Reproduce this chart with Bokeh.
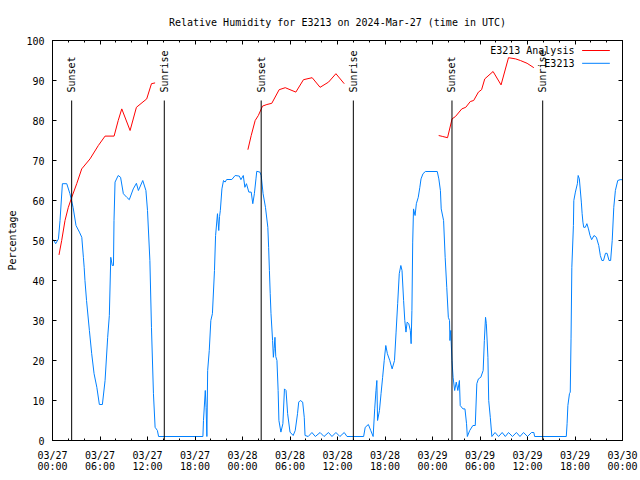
import math
from bokeh.plotting import figure
from bokeh.models import FixedTicker, LinearAxis, Range1d, Label, Arrow
from bokeh.core.properties import value
from bokeh.embed import file_html
from bokeh.resources import INLINE

FONT = "DejaVu Sans Mono"
FS = "10px"
RED = "#ff0000"
BLUE = "#0080ff"
NAN = float("nan")

title_text = "Relative Humidity for E3213 on 2024-Mar-27 (time in UTC)"
y_label = "Percentage"

# x axis: hours since 2024-03-27 00:00 UTC
x_ticks = [0, 6, 12, 18, 24, 30, 36, 42, 48, 54, 60, 66, 72]
x_minor_ticks = list(range(0, 73, 2))
x_tick_labels = ["03/27\n00:00", "03/27\n06:00", "03/27\n12:00", "03/27\n18:00",
                 "03/28\n00:00", "03/28\n06:00", "03/28\n12:00", "03/28\n18:00",
                 "03/29\n00:00", "03/29\n06:00", "03/29\n12:00", "03/29\n18:00",
                 "03/30\n00:00"]
y_ticks = [0, 10, 20, 30, 40, 50, 60, 70, 80, 90, 100]

# Sunset / sunrise events (hours)
event_hours = [2.42, 14.12, 26.36, 38.0, 50.46, 61.92]
event_labels = ["Sunset", "Sunrise", "Sunset", "Sunrise", "Sunset", "Sunrise"]

# E3213 Analysis (red), three runs separated by gaps
analysis_hours = [0.82, 1.16, 1.58, 2.0, 2.43, 3.06, 3.69, 4.74, 5.79, 6.64, 7.78, 8.3, 8.75, 9.8, 10.6, 11.9, 12.5, 12.96,
                  NAN,
                  24.68, 25.1, 25.6, 26.0, 26.53, 27.08, 27.7, 28.63, 29.4, 30.74, 31.7, 32.8, 33.8, 34.87, 35.8, 36.85,
                  NAN,
                  48.78, 49.3, 49.9, 50.47, 50.9, 51.7, 52.2, 52.78, 53.2, 53.8, 54.2, 54.6, 55.65, 56.66, 57.6, 58.5, 59.1, 59.95, 60.8]
analysis_values = [46.4, 50, 55, 58.3, 60.8, 64.2, 67.9, 70.4, 73.75, 76.1, 76.1, 80, 82.9, 77.5, 83.3, 85.4, 89.2, 89.4,
                   NAN,
                   72.7, 76.25, 80, 81.25, 83.6, 84, 84.3, 87.7, 88.2, 87.1, 90.2, 90.7, 88.3, 89.6, 91.7, 89.2,
                   NAN,
                   76.25, 76, 75.7, 80.4, 81, 82.9, 83.3, 84.75, 85, 87.1, 87.7, 90.4, 92.25, 88.9, 95.7, 95.4, 95, 94.3, 93.2]

# E3213 observations (blue)
obs_hours = [0.1, 0.4, 0.75, 0.95, 1.25, 1.8, 2.2, 2.6, 2.97, 3.4, 3.7, 3.9, 4.0, 4.1, 4.3, 4.66, 4.95, 5.25, 5.6, 5.92,
             6.3, 6.64, 6.97, 7.18, 7.36, 7.55, 7.7, 7.77, 7.9, 8.3, 8.6, 8.95, 9.38, 9.7, 10.2, 10.6, 10.85, 11.4, 11.8,
             12.0, 12.3, 12.5, 12.75, 12.96, 13.25, 13.4, 19.0, 19.07, 19.3, 19.4, 19.5, 19.6, 19.8, 20.0, 20.2, 20.46,
             20.6, 20.84, 21.0, 21.1, 21.2, 21.4, 21.6, 21.8, 22.0, 22.65, 23.07, 23.6, 23.8, 24.1, 24.3, 24.5, 24.8,
             25.1, 25.3, 25.5, 25.7, 25.8, 26.2, 26.36, 26.6, 26.9, 27.2, 27.3, 27.4, 27.5, 27.6, 27.8, 27.9, 28.0,
             28.1, 28.2, 28.35, 28.5, 28.6, 28.85, 29.1, 29.3, 29.5, 29.7, 30.0, 30.4, 30.66, 30.95, 31.1, 31.3, 31.6,
             31.8, 31.9, 32.3, 32.77, 33.2, 33.8, 34.3, 34.86, 35.3, 35.8, 36.3, 36.85, 37.2, 39.3, 39.5, 39.9, 40.2,
             40.5, 40.7, 40.86, 40.97, 41.06, 41.3, 41.5, 41.7, 41.9, 42.1, 42.3, 42.6, 42.9, 43.2, 43.4, 43.6, 43.8,
             44.0, 44.15, 44.35, 44.5, 44.65, 44.8, 45.0, 45.2, 45.3, 45.4, 45.5, 45.6, 45.8, 45.96, 46.2, 46.4, 46.55,
             46.8, 47.1, 48.6, 48.8, 49.0, 49.1, 49.4, 49.6, 49.8, 50.0, 50.15, 50.2, 50.3, 50.46, 50.6, 50.8, 51.0,
             51.2, 51.4, 51.5, 51.85, 52.1, 52.3, 52.4, 52.7, 53.1, 53.4, 53.6, 53.8, 54.1, 54.4, 54.55, 54.7, 54.8,
             55.0, 55.1, 55.3, 55.5, 55.9, 56.35, 56.8, 57.2, 57.6, 58.1, 58.6, 59.05, 59.5, 60.0, 60.5, 60.8, 60.9,
             64.9, 65.0, 65.1, 65.3, 65.4, 65.5, 65.6, 65.8, 65.85, 66.05, 66.3, 66.4, 66.55, 66.8, 66.9, 67.0, 67.1,
             67.3, 67.5, 67.7, 67.9, 68.1, 68.4, 68.7, 69.0, 69.2, 69.4, 69.6, 69.85, 70.05, 70.3, 70.5, 70.7, 70.9,
             71.1, 71.4, 71.7, 71.95]
obs_values = [50.2, 49.2, 50.4, 55, 64.2, 64.2, 61.7, 58.3, 53.75, 52.1, 50.8, 45.8, 43.3, 40, 35, 27.5, 21.7, 16.7, 13.3, 9,
              9, 15, 25.8, 31.25, 45.8, 43.75, 43.75, 55, 64.6, 66.25, 65.8, 61.7, 60.8, 60.2, 62.9, 64.3, 62.5, 65, 62.5,
              57.5, 45, 28.3, 11.7, 3.3, 2.5, 1, 1, 5, 12.5, 8.3, 1, 17.5, 22.5, 30, 31.7, 42.5,
              51.25, 56.7, 52.5, 56, 57.5, 62.9, 65, 64.6, 65.25, 65.25, 66.25, 66.1, 65.2, 66.25, 63.3, 64.2, 62.1,
              62.1, 59.2, 61.7, 65.4, 67.3, 67.1, 66.25, 61.7, 58.3, 53.3, 48.3, 42.5, 36.7, 31.7, 25, 20.8, 23,
              25.8, 21, 20, 12.5, 5, 2.1, 4.2, 12.9, 12.5, 6.7, 2.1, 1.25, 2.5, 6.7, 9.6, 10, 9.6,
              5.8, 1.25, 1, 2, 1, 2, 1, 2, 1, 2, 1, 2, 1, 1, 3.3, 4, 2.5,
              1, 7.9, 12.5, 15, 5, 7.5, 11.7, 15.8, 20, 23.75, 21.7, 20, 17.9, 20, 27.1, 34.2, 41.7,
              43.75, 42.5, 35, 30, 27.1, 29.6, 29.2, 27.5, 24.2, 32.5, 49.6, 57.9, 56.25, 59.2, 60.8, 63.3, 65.4,
              66.7, 67.25, 67.25, 65.4, 62.5, 57.9, 55, 45.8, 38.3, 30.8, 30, 25, 27.5, 20, 15.8, 12.5, 14.6,
              12.5, 15, 8.75, 7.9, 7.9, 4.2, 1, 2.5, 3.75, 3.75, 14.2, 15.4, 15.8, 17.5, 25, 30.8, 29.2,
              20.8, 10, 5.8, 1, 2, 1, 2, 1, 2, 1, 2, 1, 2, 1, 2, 2, 1,
              1, 4.2, 8.75, 11.7, 12.1, 25.4, 43.3, 53.75, 60, 62.1, 64.2, 66.25, 65.4, 59.6, 56.7, 54.6, 53.3,
              53.3, 54.2, 52.9, 51.25, 50.2, 51.25, 50.8, 48.75, 46.25, 45, 45, 46.8, 46.8, 45, 45, 50, 58.3,
              62.5, 65, 65.2, 65.2]

series_names = ["E3213 Analysis", "E3213"]

p = figure(frame_width=570, frame_height=400, output_backend="svg", toolbar_location=None,
           x_range=Range1d(0, 72), y_range=Range1d(0, 100),
           min_border_left=52, min_border_right=18, min_border_top=40, min_border_bottom=40,
           title=title_text, background_fill_color="white", border_fill_color="white")

p.title.text_font = FONT
p.title.text_font_size = FS
p.title.text_font_style = "normal"
p.title.align = "center"
p.title.text_color = "black"
p.title.standoff = 26

p.xgrid.visible = False
p.ygrid.visible = False
p.outline_line_color = "black"
p.outline_line_width = 1
p.outline_line_alpha = 1


def style(ax, show_labels=True, minor=True):
    ax.major_tick_in = 4
    ax.major_tick_out = 0
    ax.minor_tick_in = 2 if minor else 0
    ax.minor_tick_out = 0
    ax.axis_line_color = "black"
    ax.major_tick_line_color = "black"
    ax.minor_tick_line_color = "black" if minor else None
    ax.major_label_text_font = FONT
    ax.major_label_text_color = "black"
    ax.axis_label_text_font = FONT
    ax.axis_label_text_font_size = FS
    ax.axis_label_text_font_style = "normal"
    ax.axis_label_text_color = "black"
    if show_labels:
        ax.major_label_text_font_size = FS
    else:
        ax.major_label_text_font_size = "0px"
        ax.major_label_text_color = None
        ax.major_label_standoff = 0


xa = p.xaxis[0]
xa.ticker = FixedTicker(ticks=x_ticks, minor_ticks=x_minor_ticks)
xa.major_label_overrides = {t: lab for t, lab in zip(x_ticks, x_tick_labels)}
style(xa)
xa.major_label_standoff = 9
xa.major_label_text_line_height = 1.0

ya = p.yaxis[0]
ya.ticker = FixedTicker(ticks=y_ticks)
ya.axis_label = y_label
style(ya, minor=False)
ya.major_label_standoff = 8
ya.axis_label_standoff = 5

top_ax = LinearAxis(ticker=FixedTicker(ticks=x_ticks, minor_ticks=x_minor_ticks))
style(top_ax, show_labels=False)
p.add_layout(top_ax, "above")

right_ax = LinearAxis(ticker=FixedTicker(ticks=y_ticks))
style(right_ax, show_labels=False, minor=False)
p.add_layout(right_ax, "right")

# data lines
p.line(analysis_hours, analysis_values, line_color=RED, line_width=1)
p.line(obs_hours, obs_values, line_color=BLUE, line_width=1)

# sunset / sunrise markers
p.segment(x0=event_hours, y0=[0] * len(event_hours), x1=event_hours, y1=[85] * len(event_hours),
          line_color="black", line_width=1)
p.text(x=event_hours, y=[87] * len(event_hours), text=event_labels, angle=math.pi / 2,
       text_align="left", text_baseline="middle", text_font=value(FONT), text_font_size=FS,
       text_color="black")

# legend (gnuplot style: label on the left, sample on the right)
legend_text_x = 65.93
legend_line_x0 = 66.9
legend_line_x1 = 70.4
legend_rows_y = [97.5, 94.3]
for name, col, ly in zip(series_names, [RED, BLUE], legend_rows_y):
    p.add_layout(Label(x=legend_text_x, y=ly, text=name, text_align="right", text_baseline="middle",
                       text_font=FONT, text_font_size=FS, text_color="black"))
    p.add_layout(Arrow(end=None, x_start=legend_line_x0, y_start=ly, x_end=legend_line_x1, y_end=ly,
                       line_color=col, line_width=1))

open("out.html", "w").write(file_html(p, INLINE))
